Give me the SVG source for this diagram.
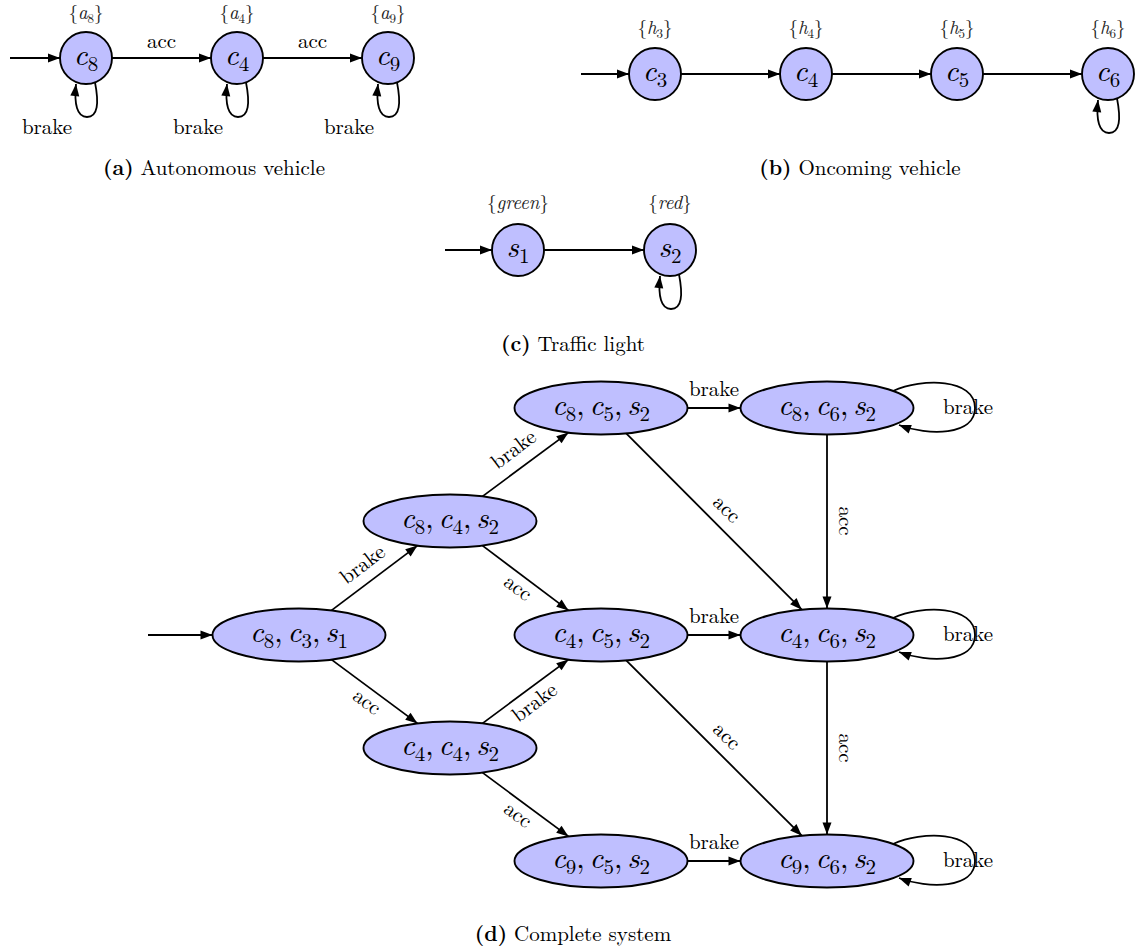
<svg xmlns="http://www.w3.org/2000/svg" width="1141" height="951" viewBox="0 0 1141 951" font-family="Liberation Serif, DejaVu Serif, Noto Serif, Tinos, Times New Roman, serif">
<defs>
<marker id="arr" markerUnits="userSpaceOnUse" markerWidth="13" markerHeight="10" refX="12" refY="4.5" orient="auto" overflow="visible">
<path d="M0,0 L12,4.5 L0,9 z" fill="#000"/>
</marker>
<style>
.node{fill:#BFBFFF;stroke:#000;stroke-width:1.9}
.edge{fill:none;stroke:#000;stroke-width:1.8;marker-end:url(#arr)}
text{font-family:"CMU Serif","Latin Modern Roman","Liberation Serif","DejaVu Serif","Noto Serif",Tinos,"Times New Roman","Nimbus Roman","FreeSerif",serif}
.nl{font-size:30px;text-anchor:middle;fill:#000}
.i{font-style:italic}
.sb{font-size:21px;font-style:normal}
.set{font-size:19px;text-anchor:middle;fill:#222}
.ss{font-size:13px;font-style:normal}
.lbl{font-size:21px;text-anchor:middle;fill:#000}
.cap{font-size:21px;text-anchor:middle;fill:#000}
.b{font-weight:bold}
</style>
</defs>
<rect width="1141" height="951" fill="#fff"/>

<!-- (a) Autonomous vehicle -->
<g id="a_c8"><circle class="node" cx="86" cy="58" r="26"/><text class="nl" x="86" y="65"><tspan class="i">c</tspan><tspan class="sb" dy="6">8</tspan></text>
<text class="set" x="86" y="19">{<tspan class="i">a</tspan><tspan class="ss" dy="4">8</tspan><tspan dy="-4">}</tspan></text></g>
<g id="a_c4"><circle class="node" cx="237" cy="58" r="26"/><text class="nl" x="237" y="65"><tspan class="i">c</tspan><tspan class="sb" dy="6">4</tspan></text>
<text class="set" x="237" y="19">{<tspan class="i">a</tspan><tspan class="ss" dy="4">4</tspan><tspan dy="-4">}</tspan></text></g>
<g id="a_c9"><circle class="node" cx="388" cy="58" r="26"/><text class="nl" x="388" y="65"><tspan class="i">c</tspan><tspan class="sb" dy="6">9</tspan></text>
<text class="set" x="388" y="19">{<tspan class="i">a</tspan><tspan class="ss" dy="4">9</tspan><tspan dy="-4">}</tspan></text></g>

<!-- (b) Oncoming vehicle -->
<g id="b_c3"><circle class="node" cx="655" cy="74" r="26"/><text class="nl" x="655" y="81"><tspan class="i">c</tspan><tspan class="sb" dy="6">3</tspan></text>
<text class="set" x="655" y="34">{<tspan class="i">h</tspan><tspan class="ss" dy="4">3</tspan><tspan dy="-4">}</tspan></text></g>
<g id="b_c4"><circle class="node" cx="806" cy="74" r="26"/><text class="nl" x="806" y="81"><tspan class="i">c</tspan><tspan class="sb" dy="6">4</tspan></text>
<text class="set" x="806" y="34">{<tspan class="i">h</tspan><tspan class="ss" dy="4">4</tspan><tspan dy="-4">}</tspan></text></g>
<g id="b_c5"><circle class="node" cx="957" cy="74" r="26"/><text class="nl" x="957" y="81"><tspan class="i">c</tspan><tspan class="sb" dy="6">5</tspan></text>
<text class="set" x="957" y="34">{<tspan class="i">h</tspan><tspan class="ss" dy="4">5</tspan><tspan dy="-4">}</tspan></text></g>
<g id="b_c6"><circle class="node" cx="1108" cy="74" r="26"/><text class="nl" x="1108" y="81"><tspan class="i">c</tspan><tspan class="sb" dy="6">6</tspan></text>
<text class="set" x="1108" y="34">{<tspan class="i">h</tspan><tspan class="ss" dy="4">6</tspan><tspan dy="-4">}</tspan></text></g>

<!-- (c) Traffic light -->
<g id="c_s1"><circle class="node" cx="518" cy="250" r="26"/><text class="nl" x="518" y="257"><tspan class="i">s</tspan><tspan class="sb" dy="6">1</tspan></text>
<text class="set" x="518" y="209">{<tspan class="i">green</tspan>}</text></g>
<g id="c_s2"><circle class="node" cx="670" cy="250" r="26"/><text class="nl" x="670" y="257"><tspan class="i">s</tspan><tspan class="sb" dy="6">2</tspan></text>
<text class="set" x="670" y="209">{<tspan class="i">red</tspan>}</text></g>

<!-- (d) Complete system -->
<g id="d_c8c3s1"><ellipse class="node" cx="299" cy="635" rx="86.5" ry="26.5"/><text class="nl" x="299" y="642"><tspan class="i">c</tspan><tspan class="sb" dy="6">8</tspan><tspan dy="-6">,</tspan><tspan class="i" dx="5">c</tspan><tspan class="sb" dy="6">3</tspan><tspan dy="-6">,</tspan><tspan class="i" dx="5">s</tspan><tspan class="sb" dy="6">1</tspan></text></g>
<g id="d_c8c4s2"><ellipse class="node" cx="450" cy="521" rx="86.5" ry="26.5"/><text class="nl" x="450" y="528"><tspan class="i">c</tspan><tspan class="sb" dy="6">8</tspan><tspan dy="-6">,</tspan><tspan class="i" dx="5">c</tspan><tspan class="sb" dy="6">4</tspan><tspan dy="-6">,</tspan><tspan class="i" dx="5">s</tspan><tspan class="sb" dy="6">2</tspan></text></g>
<g id="d_c4c4s2"><ellipse class="node" cx="450" cy="748" rx="86.5" ry="26.5"/><text class="nl" x="450" y="755"><tspan class="i">c</tspan><tspan class="sb" dy="6">4</tspan><tspan dy="-6">,</tspan><tspan class="i" dx="5">c</tspan><tspan class="sb" dy="6">4</tspan><tspan dy="-6">,</tspan><tspan class="i" dx="5">s</tspan><tspan class="sb" dy="6">2</tspan></text></g>
<g id="d_c8c5s2"><ellipse class="node" cx="601" cy="408" rx="86.5" ry="26.5"/><text class="nl" x="601" y="415"><tspan class="i">c</tspan><tspan class="sb" dy="6">8</tspan><tspan dy="-6">,</tspan><tspan class="i" dx="5">c</tspan><tspan class="sb" dy="6">5</tspan><tspan dy="-6">,</tspan><tspan class="i" dx="5">s</tspan><tspan class="sb" dy="6">2</tspan></text></g>
<g id="d_c4c5s2"><ellipse class="node" cx="601" cy="635" rx="86.5" ry="26.5"/><text class="nl" x="601" y="642"><tspan class="i">c</tspan><tspan class="sb" dy="6">4</tspan><tspan dy="-6">,</tspan><tspan class="i" dx="5">c</tspan><tspan class="sb" dy="6">5</tspan><tspan dy="-6">,</tspan><tspan class="i" dx="5">s</tspan><tspan class="sb" dy="6">2</tspan></text></g>
<g id="d_c9c5s2"><ellipse class="node" cx="601" cy="861" rx="86.5" ry="26.5"/><text class="nl" x="601" y="868"><tspan class="i">c</tspan><tspan class="sb" dy="6">9</tspan><tspan dy="-6">,</tspan><tspan class="i" dx="5">c</tspan><tspan class="sb" dy="6">5</tspan><tspan dy="-6">,</tspan><tspan class="i" dx="5">s</tspan><tspan class="sb" dy="6">2</tspan></text></g>
<g id="d_c8c6s2"><ellipse class="node" cx="827" cy="408" rx="86.5" ry="26.5"/><text class="nl" x="827" y="415"><tspan class="i">c</tspan><tspan class="sb" dy="6">8</tspan><tspan dy="-6">,</tspan><tspan class="i" dx="5">c</tspan><tspan class="sb" dy="6">6</tspan><tspan dy="-6">,</tspan><tspan class="i" dx="5">s</tspan><tspan class="sb" dy="6">2</tspan></text></g>
<g id="d_c4c6s2"><ellipse class="node" cx="827" cy="635" rx="86.5" ry="26.5"/><text class="nl" x="827" y="642"><tspan class="i">c</tspan><tspan class="sb" dy="6">4</tspan><tspan dy="-6">,</tspan><tspan class="i" dx="5">c</tspan><tspan class="sb" dy="6">6</tspan><tspan dy="-6">,</tspan><tspan class="i" dx="5">s</tspan><tspan class="sb" dy="6">2</tspan></text></g>
<g id="d_c9c6s2"><ellipse class="node" cx="827" cy="861" rx="86.5" ry="26.5"/><text class="nl" x="827" y="868"><tspan class="i">c</tspan><tspan class="sb" dy="6">9</tspan><tspan dy="-6">,</tspan><tspan class="i" dx="5">c</tspan><tspan class="sb" dy="6">6</tspan><tspan dy="-6">,</tspan><tspan class="i" dx="5">s</tspan><tspan class="sb" dy="6">2</tspan></text></g>

<g id="connectors">
<!-- (a) -->
<path class="edge" d="M10 58 L60 58"/>
<path class="edge" d="M112 58 L211 58"/>
<path class="edge" d="M263 58 L362 58"/>
<path class="edge" d="M95 82.4 C99 103 98 117 87 117 C77 117 74 104 76 84"/>
<path class="edge" d="M246 82.4 C250 103 249 117 238 117 C228 117 225 104 227 84"/>
<path class="edge" d="M397 82.4 C401 103 400 117 389 117 C379 117 376 104 378 84"/>
<text class="lbl" x="161.5" y="48">acc</text>
<text class="lbl" x="312.5" y="48">acc</text>
<text class="lbl" x="47" y="134">brake</text>
<text class="lbl" x="198" y="134">brake</text>
<text class="lbl" x="349" y="134">brake</text>
<!-- (b) -->
<path class="edge" d="M581 74 L629 74"/>
<path class="edge" d="M681 74 L780 74"/>
<path class="edge" d="M832 74 L931 74"/>
<path class="edge" d="M983 74 L1082 74"/>
<path class="edge" d="M1117 98.4 C1121 119 1120 133 1109 133 C1099 133 1096 120 1098 100"/>
<!-- (c) -->
<path class="edge" d="M445 250 L492 250"/>
<path class="edge" d="M544 250 L644 250"/>
<path class="edge" d="M679 274.4 C683 295 682 309 671 309 C661 309 658 296 660 276"/>
<!-- (d) -->
<path class="edge" d="M148 635 L212.5 635"/>
<path class="edge" d="M331.5 610.4 L417.5 545.6"/>
<path class="edge" d="M331.5 659.6 L417.5 723.4"/>
<path class="edge" d="M482.5 496.4 L568.5 432.6"/>
<path class="edge" d="M482.5 545.6 L568.5 610.4"/>
<path class="edge" d="M482.5 723.4 L568.5 659.6"/>
<path class="edge" d="M482.5 772.6 L568.5 836.4"/>
<path class="edge" d="M687.5 408 L740.5 408"/>
<path class="edge" d="M687.5 635 L740.5 635"/>
<path class="edge" d="M687.5 861 L740.5 861"/>
<path class="edge" d="M626.2 433.3 L801.8 609.7"/>
<path class="edge" d="M626.2 660.3 L801.8 835.7"/>
<path class="edge" d="M827 434.5 L827 608.5"/>
<path class="edge" d="M827 661.5 L827 834.5"/>
<path class="edge" d="M893 391 C922 378 975 378 975 408 C975 436 928 436 899 425"/>
<path class="edge" d="M893 618 C922 605 975 605 975 635 C975 663 928 663 899 652"/>
<path class="edge" d="M893 844 C922 831 975 831 975 861 C975 889 928 889 899 878"/>
<text class="lbl" transform="translate(363 565) rotate(-37)" y="6">brake</text>
<text class="lbl" transform="translate(365.5 704) rotate(37)" y="4">acc</text>
<text class="lbl" transform="translate(514 450) rotate(-37)" y="6">brake</text>
<text class="lbl" transform="translate(516.5 590) rotate(37)" y="4">acc</text>
<text class="lbl" transform="translate(535 703) rotate(-37)" y="6">brake</text>
<text class="lbl" transform="translate(516.5 817) rotate(37)" y="4">acc</text>
<text class="lbl" x="714" y="396">brake</text>
<text class="lbl" x="714" y="623">brake</text>
<text class="lbl" x="714" y="849">brake</text>
<text class="lbl" transform="translate(725 511) rotate(45)" y="4">acc</text>
<text class="lbl" transform="translate(725 738) rotate(45)" y="4">acc</text>
<text class="lbl" transform="translate(843 521) rotate(90)" y="4">acc</text>
<text class="lbl" transform="translate(843 748) rotate(90)" y="4">acc</text>
<text class="lbl" x="968" y="414">brake</text>
<text class="lbl" x="968" y="641">brake</text>
<text class="lbl" x="968" y="867">brake</text>
</g>

<g id="captions">
<text class="cap" x="214" y="175"><tspan class="b">(a)</tspan> Autonomous vehicle</text>
<text class="cap" x="860" y="175"><tspan class="b">(b)</tspan> Oncoming vehicle</text>
<text class="cap" x="573" y="351"><tspan class="b">(c)</tspan> Traffic light</text>
<text class="cap" x="573" y="941"><tspan class="b">(d)</tspan> Complete system</text>
</g>
</svg>
